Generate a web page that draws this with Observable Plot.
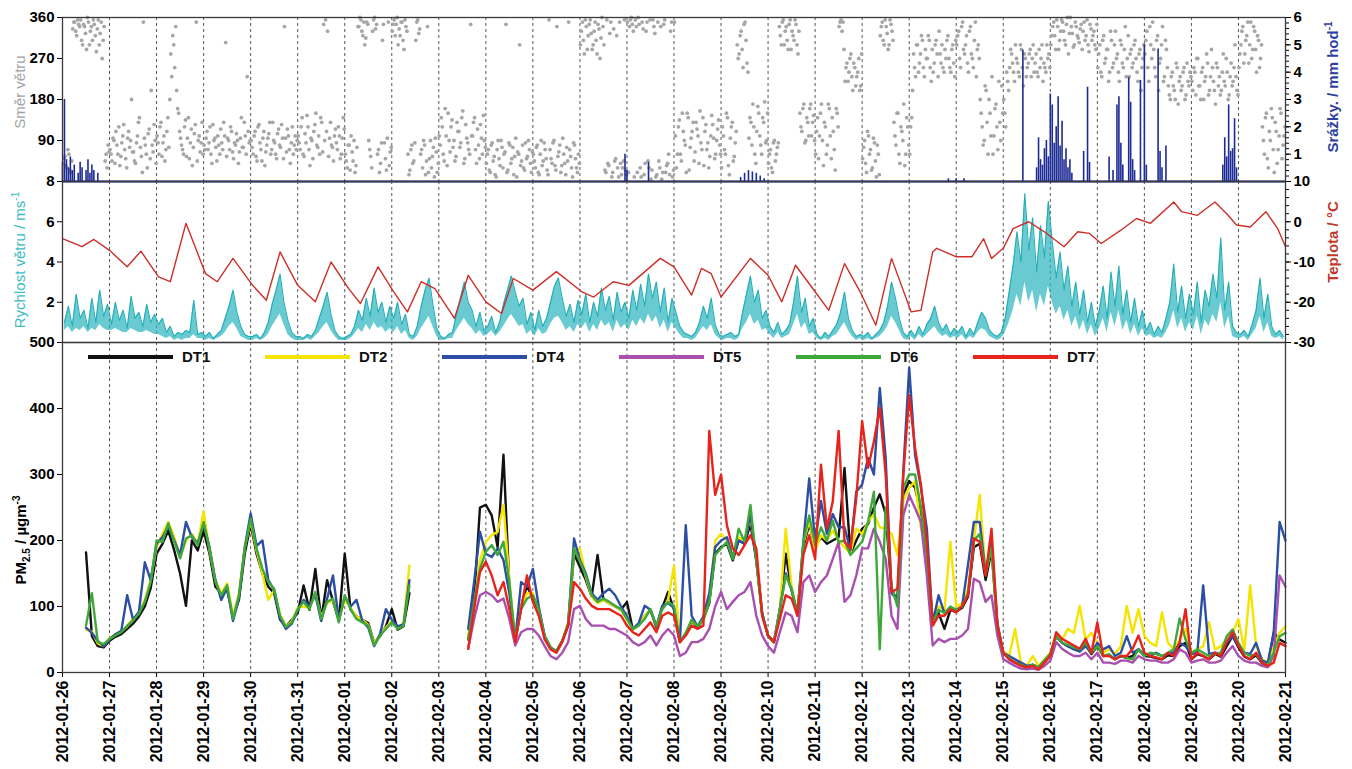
<!DOCTYPE html>
<html><head><meta charset="utf-8">
<script src="https://cdn.jsdelivr.net/npm/d3@7"></script>
<script src="https://cdn.jsdelivr.net/npm/@observablehq/plot@0.6"></script>
<style>
body{margin:0;background:#fff;}
#wrap{position:relative;width:1352px;height:769px;overflow:hidden;background:#fff;}
</style></head><body><div id="wrap"></div>
<script>
// ---------- DATA ----------
// time axis: hours since 2012-01-26 00:00 UTC
const dayLabels = ["2012-01-26","2012-01-27","2012-01-28","2012-01-29","2012-01-30","2012-01-31","2012-02-01","2012-02-02","2012-02-03","2012-02-04","2012-02-05","2012-02-06","2012-02-07","2012-02-08","2012-02-09","2012-02-10","2012-02-11","2012-02-12","2012-02-13","2012-02-14","2012-02-15","2012-02-16","2012-02-17","2012-02-18","2012-02-19","2012-02-20","2012-02-21"];

// wind direction (deg), hourly readings at :15
const windDir = [
40,55,30,60,20,335,350,320,345,355,300,340,290,350,330,310,345,285,355,325,270,340,60,80,
70,45,90,110,60,35,85,125,50,95,75,180,65,40,100,140,55,350,80,30,115,200,65,90,
100,60,130,85,45,110,75,280,320,250,200,150,95,70,120,55,140,85,35,105,350,90,65,130,
80,95,70,120,40,90,75,100,60,85,130,305,95,70,110,50,80,90,65,140,75,100,230,85,
90,60,110,45,125,70,95,35,80,105,60,130,85,50,115,75,95,340,65,100,40,120,80,70,
100,70,140,55,85,120,35,90,110,150,75,60,130,345,355,330,95,80,45,115,70,100,60,140,
60,30,80,100,45,20,75,340,355,320,300,350,90,55,330,360,345,70,40,310,85,25,350,65,
330,355,345,300,320,350,290,340,60,25,80,45,310,355,335,70,90,15,340,50,30,75,95,20,
100,140,60,160,35,90,120,75,45,130,110,85,155,50,95,70,345,100,140,40,80,125,60,90,
40,70,20,85,55,10,90,35,75,60,345,25,80,50,15,95,65,300,45,30,85,55,70,20,
60,30,80,15,90,45,70,25,355,50,85,35,340,65,20,95,40,75,350,55,10,80,30,60,
300,350,280,340,320,355,290,330,310,345,270,360,300,20,40,325,10,335,50,30,350,15,45,25,
350,340,360,330,355,20,345,10,335,40,350,30,5,355,325,15,45,340,20,355,35,60,330,10,
350,30,120,60,150,90,20,140,75,110,45,130,100,155,70,35,125,85,55,145,95,60,115,80,
30,100,60,140,15,120,45,85,300,280,330,250,350,260,95,130,170,60,110,150,80,140,175,90,
40,70,20,90,60,85,320,350,300,340,290,355,330,310,345,280,150,110,170,90,130,160,100,145,
60,140,100,170,35,120,80,160,50,110,25,150,340,355,350,220,260,240,280,200,250,230,270,210,
50,90,20,100,70,30,85,10,60,320,350,300,340,290,355,330,130,80,150,40,110,170,60,120,
60,140,280,230,300,260,320,250,290,270,310,220,240,300,280,330,260,250,290,310,270,240,300,230,
300,330,250,350,280,320,240,340,270,310,230,300,180,120,90,200,60,150,230,100,170,70,130,210,
180,120,220,250,280,240,300,260,230,290,210,270,250,280,230,300,260,240,290,270,220,250,300,280,
300,340,320,355,290,330,350,310,345,280,360,325,300,340,315,335,290,350,320,300,345,310,330,290,
250,300,230,320,270,290,240,310,260,330,280,220,300,250,340,270,230,290,260,310,240,280,200,270,
280,330,220,300,350,250,310,200,270,340,230,290,210,180,240,200,260,170,230,210,250,190,220,240,
220,250,190,270,210,240,180,230,260,200,290,220,170,250,230,200,280,210,240,190,260,220,300,200,
250,300,340,280,320,260,350,290,330,240,310,270,120,60,150,30,90,140,20,110,70,160,50,100];
// wind direction (deg), hourly readings at :45
const windDirB = [
50,35,70,25,45,350,330,355,340,310,345,325,360,300,340,355,320,335,300,350,310,45,30,65,
60,95,40,80,120,55,100,70,30,110,90,65,45,85,130,75,20,95,60,105,50,80,125,40,
85,120,55,100,70,140,180,230,300,340,160,110,80,60,135,95,50,115,75,125,45,100,85,60,
70,110,85,60,125,95,45,80,115,70,100,55,90,120,65,85,105,40,95,75,130,60,110,90,
75,100,55,120,85,45,110,65,95,130,70,90,60,105,80,125,50,95,115,70,85,60,100,90,
85,120,60,105,145,70,95,50,125,80,100,140,65,90,110,55,130,75,100,85,120,50,95,115,
45,80,25,65,90,35,340,360,330,350,315,345,70,30,355,335,60,20,85,345,50,95,35,75,
345,320,360,335,350,310,355,330,15,70,40,85,350,325,60,30,80,45,20,90,55,10,65,40,
80,120,45,100,150,65,135,90,55,110,75,140,40,125,85,60,100,130,70,115,50,95,145,75,
60,25,80,45,15,70,50,90,30,65,20,85,40,75,55,10,60,35,80,25,50,90,40,65,
45,75,20,60,35,85,50,15,70,40,90,25,55,80,35,60,15,45,70,30,85,50,20,40,
330,310,355,290,345,325,300,350,280,335,315,340,25,355,35,350,20,45,320,10,40,30,355,15,
20,355,345,10,340,360,30,350,15,330,45,355,25,340,10,350,30,5,345,20,40,15,350,25,
100,60,135,45,110,80,150,25,95,130,65,115,40,85,140,110,70,30,100,125,50,90,135,60,
120,70,150,35,95,130,55,110,270,320,290,345,310,240,140,80,120,40,165,100,60,130,85,150,
60,30,85,45,75,340,300,355,330,310,345,290,320,355,300,330,120,160,85,140,100,170,130,90,
110,50,150,90,130,60,170,100,140,70,160,120,350,330,290,250,220,270,230,260,210,240,200,280,
75,40,110,60,25,95,45,80,15,340,310,355,325,300,345,310,100,150,60,120,90,35,140,80,
120,200,250,300,240,280,310,230,270,320,250,290,260,310,230,280,300,240,270,320,250,290,260,310,
320,270,340,290,300,260,330,280,250,350,290,270,150,80,210,130,180,100,60,160,120,220,90,150,
150,240,200,290,260,220,270,240,300,250,280,230,260,290,270,240,280,230,250,300,260,240,270,250,
320,350,290,340,310,355,330,300,360,325,340,295,350,320,305,345,330,310,355,285,335,320,300,345,
280,240,310,260,290,220,330,250,300,270,240,310,260,290,230,320,280,250,300,270,220,290,250,300,
310,250,340,270,290,230,320,260,300,220,310,250,190,230,210,180,250,220,200,240,180,260,210,230,
200,240,270,210,180,250,220,280,190,230,250,200,260,210,190,240,220,270,180,230,210,250,230,190,
280,330,260,310,350,300,270,340,290,320,250,300,90,140,50,110,160,70,130,40,100,150,80,120];

// precipitation (mm/h): hour, value
const precipHours = [0,1,2,3,4,5,6,8,9,10,12,13,14,15,16,18,
 287,288,299, 346,348,350,352,354,356,358, 452,456,460,
 490,497,498,499,500,501,502,503,504,505,506,507,508,509,510,511,512,513,514,515,
 521,523,524, 534,536,538,539,540,541, 544,545,546,547, 550,552,553, 559,560,561,563,
 592,593,594,595,596,597,598,599];
const precipValues = [0.6,3.0,0.8,0.5,0.9,0.4,0.6,0.3,0.7,0.5,0.4,0.8,0.3,0.6,0.4,0.3,
 1.0,0.4,0.7, 0.15,0.3,0.4,0.35,0.3,0.2,0.1, 0.1,0.1,0.1,
 4.8,0.5,1.6,0.8,0.6,1.2,1.5,0.9,3.2,2.8,1.4,2.0,3.1,1.3,2.2,0.8,1.2,0.5,0.8,0.3,
 1.1,3.45,0.7, 0.9,0.4,2.8,3.1,1.4,0.6, 3.8,2.9,0.8,0.4, 3.7,5.0,0.6, 4.85,1.1,0.5,1.3,
 0.6,1.6,0.9,2.8,1.1,1.2,2.3,0.5];

// wind speed (m/s), every 2 hours: upper readings and lower envelope
const windSpeed = [
1.0,1.8,0.8,2.4,1.2,1.6,0.7,2.2,1.0,2.6,1.3,1.9,
0.9,2.0,1.1,1.6,0.7,2.3,1.2,1.5,0.8,1.9,1.0,1.4,
0.9,1.2,0.5,0.8,0.3,0.5,0.4,0.6,0.5,2.1,0.4,0.5,
0.3,0.5,0.2,0.4,0.6,1.2,1.8,2.6,1.5,0.8,0.4,0.3,
0.3,0.4,0.2,0.5,1.0,1.9,2.6,3.4,2.0,1.1,0.5,0.3,
0.3,0.2,0.4,0.3,0.6,1.2,1.8,2.5,1.4,0.6,0.3,0.2,
0.3,0.4,0.8,1.6,1.1,2.2,1.3,2.7,1.5,2.0,1.0,1.8,
1.2,2.0,0.9,1.4,0.4,0.3,0.8,1.8,2.6,3.2,1.9,0.7,
0.3,0.2,0.4,0.5,1.4,2.2,3.0,2.0,1.6,0.8,1.5,0.6,
0.8,1.3,0.5,1.0,1.9,2.6,3.3,2.5,1.8,2.2,0.9,1.5,
0.6,1.6,0.8,1.2,2.0,2.8,3.2,2.2,1.3,1.9,1.0,2.1,
1.4,2.4,1.0,2.0,1.3,2.7,1.6,2.3,1.1,2.5,1.5,2.0,
1.2,2.6,1.6,2.9,1.8,3.4,2.2,3.0,1.5,2.7,1.0,2.2,
1.5,0.8,0.5,0.4,0.3,0.5,1.0,1.8,1.2,2.2,0.9,0.4,
0.3,0.4,0.5,0.3,0.4,1.5,2.4,3.3,2.0,2.6,1.2,1.6,
0.8,0.5,1.0,0.4,0.6,0.9,2.0,3.3,1.5,2.2,0.8,1.2,
0.4,0.2,0.5,0.3,0.6,0.9,1.5,2.5,1.2,0.6,0.3,0.4,
0.3,0.5,0.2,0.4,0.6,1.0,1.8,3.0,2.2,1.2,0.5,0.3,
0.6,0.3,0.8,0.4,0.9,1.2,1.8,1.0,0.6,0.9,0.4,0.7,
0.5,0.8,0.3,0.7,0.4,1.0,1.5,1.2,0.6,0.4,0.3,0.5,
1.2,2.5,3.8,5.5,4.0,7.4,4.6,6.2,3.5,5.8,4.2,7.0,
5.0,3.2,4.5,2.6,3.8,1.8,3.0,1.4,2.6,1.0,2.0,0.8,
1.6,2.8,1.2,3.5,1.8,3.8,1.4,2.6,1.0,2.2,0.8,1.6,
0.6,1.0,0.4,0.8,0.5,1.2,2.0,3.9,1.5,2.8,1.2,2.4,
1.4,3.0,1.0,2.6,1.8,3.4,2.2,5.2,1.6,3.0,0.8,0.5,
0.4,0.6,0.3,0.9,1.6,3.2,1.2,2.4,0.8,0.4,0.6,0.3];
const windLow = [
0.6,0.8,0.5,0.7,0.6,0.8,0.5,0.7,0.6,0.9,0.7,0.6,
0.6,0.7,0.6,0.5,0.5,0.7,0.6,0.5,0.5,0.6,0.5,0.4,
0.4,0.3,0.2,0.3,0.1,0.2,0.1,0.2,0.2,0.4,0.2,0.2,
0.1,0.2,0.1,0.2,0.3,0.5,0.8,1.0,0.7,0.3,0.2,0.1,
0.1,0.2,0.1,0.2,0.4,0.8,1.1,1.4,0.9,0.4,0.2,0.1,
0.1,0.1,0.2,0.1,0.3,0.5,0.8,1.0,0.6,0.3,0.1,0.1,
0.1,0.2,0.4,0.7,0.5,0.9,0.6,1.0,0.7,0.8,0.5,0.7,
0.5,0.8,0.4,0.6,0.2,0.1,0.3,0.7,1.0,1.3,0.8,0.3,
0.1,0.1,0.2,0.2,0.6,0.9,1.2,0.9,0.7,0.4,0.6,0.3,
0.4,0.6,0.3,0.5,0.8,1.1,1.4,1.1,0.8,0.9,0.4,0.6,
0.3,0.7,0.4,0.5,0.9,1.2,1.3,1.0,0.6,0.8,0.5,0.9,
0.7,1.0,0.5,0.9,0.6,1.1,0.8,1.0,0.5,1.1,0.7,0.9,
0.6,1.1,0.8,1.2,0.9,1.4,1.0,1.3,0.7,1.1,0.5,1.0,
0.7,0.4,0.2,0.2,0.1,0.2,0.5,0.8,0.6,0.9,0.4,0.2,
0.1,0.2,0.2,0.1,0.2,0.7,1.0,1.4,0.9,1.1,0.6,0.7,
0.4,0.2,0.5,0.2,0.3,0.4,0.9,1.4,0.7,1.0,0.4,0.5,
0.2,0.1,0.2,0.1,0.3,0.4,0.7,1.0,0.6,0.3,0.1,0.2,
0.1,0.2,0.1,0.2,0.3,0.5,0.8,1.3,1.0,0.6,0.2,0.1,
0.3,0.1,0.4,0.2,0.4,0.6,0.8,0.5,0.3,0.4,0.2,0.3,
0.2,0.4,0.1,0.3,0.2,0.5,0.7,0.6,0.3,0.2,0.1,0.2,
0.5,1.0,1.6,2.4,1.8,3.0,2.0,2.6,1.5,2.4,1.8,2.8,
2.0,1.4,1.8,1.1,1.6,0.8,1.3,0.6,1.1,0.4,0.9,0.3,
0.7,1.2,0.5,1.5,0.8,1.6,0.6,1.1,0.4,0.9,0.3,0.7,
0.3,0.4,0.2,0.3,0.2,0.5,0.9,1.6,0.7,1.2,0.5,1.0,
0.6,1.3,0.4,1.1,0.8,1.4,1.0,2.0,0.7,1.3,0.3,0.2,
0.2,0.3,0.1,0.4,0.7,1.3,0.5,1.0,0.3,0.2,0.3,0.1];

// temperature (°C): hour, value
const tempHours = [0,10,16,24,33,40,49,55,63,73,79,87,97,104,111,120,129,137,146,152,161,169,176,183,190,200,207,216,224,230,240,252,265,271,281,289,305,312,321,326,331,336,351,360,367,374,384,391,399,407,415,423,433,438,444,446,456,464,470,474,480,485,493,501,511,518,524,530,540,548,555,567,571,579,588,594,599,606,614,620,624];
const tempValues = [-4.2,-6.2,-4.4,-7.1,-11.2,-7.3,-13.7,-14.9,-0.4,-12.9,-14.9,-9.1,-15.8,-19.5,-7.5,-15.8,-19.9,-10.0,-16.6,-20.3,-11.2,-17.4,-22.4,-14.9,-16.6,-24.0,-13.3,-19.9,-22.8,-14.1,-17.0,-12.4,-17.4,-18.7,-14.9,-15.8,-9.1,-11.2,-18.2,-11.6,-12.9,-18.7,-9.1,-13.3,-19.9,-10.8,-17.4,-22.0,-10.4,-17.4,-25.7,-9.1,-22.4,-22.0,-7.5,-6.6,-8.7,-8.7,-4.2,-9.1,-6.6,-1.7,0.0,-2.5,-6.2,-2.5,-2.9,-5.4,-2.1,0.8,-0.4,4.9,2.5,1.6,4.9,2.0,-0.8,-1.3,2.5,-1.7,-6.2];

// PM2.5 (µg/m3), every 3 hours. Segment A: hours 12..177, segment B: hours 207..624
const segAStart = 12, segBStart = 207, stepH = 3;
const DT1_a = [182,55,40,38,48,54,58,66,74,85,100,128,180,195,215,185,150,101,200,185,215,180,130,120,125,85,110,180,225,180,150,130,120,80,70,80,90,132,95,157,80,140,108,78,180,95,85,80,75,45,55,70,96,65,70,120];
const DT2_a = [65,62,44,40,52,58,62,70,82,90,110,140,190,210,228,205,175,200,210,195,244,185,140,120,135,85,120,190,230,185,150,110,125,88,70,78,98,100,98,118,85,105,110,80,110,98,85,80,72,44,58,68,78,68,75,162];
const DT4_a = [68,60,48,40,50,58,63,117,80,92,167,140,195,205,222,200,178,228,205,196,225,190,140,110,128,78,112,190,241,192,200,140,125,82,66,74,94,110,100,118,78,112,147,80,115,100,110,78,68,40,58,96,80,70,73,140];
const DT6_a = [71,120,46,43,51,56,61,71,79,89,107,137,200,198,226,198,173,203,208,193,228,188,137,117,132,81,117,188,233,188,157,137,127,86,69,76,96,107,96,122,81,107,112,76,117,96,81,76,71,41,56,66,76,66,71,132];

const DT1_b = [50,110,250,254,238,190,330,130,48,100,132,110,95,55,38,32,48,72,180,160,140,115,178,110,105,100,95,107,65,72,85,95,68,98,122,95,46,58,78,68,80,105,180,190,195,170,200,195,225,170,88,55,46,95,180,125,88,190,225,190,205,195,200,205,310,180,200,218,225,250,270,240,125,110,270,290,280,240,180,72,90,66,95,92,98,115,190,195,140,185,70,30,20,15,12,8,10,6,16,26,55,45,40,36,32,42,28,40,25,26,20,25,22,25,35,25,24,22,20,26,25,40,45,20,28,25,20,28,24,40,55,38,24,20,26,14,10,61,50,45];
const DT2_b = [55,100,170,198,208,213,254,140,50,100,120,120,95,55,38,32,48,75,185,188,145,115,105,110,105,100,95,80,65,72,85,95,70,95,110,162,46,60,78,70,80,110,200,210,200,175,205,200,235,175,88,56,46,95,218,130,90,195,230,185,208,200,215,200,190,180,218,210,228,240,220,218,210,178,260,280,290,218,190,75,100,95,198,100,105,125,200,269,150,190,72,32,25,66,15,10,25,10,20,30,56,50,66,60,101,50,60,45,30,35,28,40,101,60,96,56,45,40,91,45,35,50,66,30,35,40,76,35,40,50,60,81,35,132,40,20,15,40,60,70];
const DT4_b = [66,137,213,180,175,188,170,120,50,137,130,157,100,55,38,32,48,71,203,170,150,120,110,120,127,117,100,85,66,75,101,95,70,101,105,98,46,223,86,70,85,120,190,200,205,175,200,195,240,170,90,56,46,95,150,125,90,198,294,200,260,210,240,220,220,185,274,285,325,300,431,325,120,110,305,462,330,280,218,75,117,90,95,95,100,163,228,228,150,200,75,30,25,20,15,10,12,8,18,28,55,45,40,35,32,40,30,45,35,40,25,30,55,30,35,28,25,30,25,28,30,45,40,28,30,132,28,30,28,45,55,40,30,28,45,18,15,60,228,200];
const DT5_b = [36,81,117,122,117,107,112,81,41,61,66,66,56,40,25,20,30,46,96,101,81,71,71,71,66,66,61,56,46,41,46,56,41,56,66,56,25,30,46,46,51,66,100,122,96,107,117,122,137,86,56,40,30,61,91,86,61,137,147,122,137,147,172,198,107,117,147,188,188,218,198,172,86,66,238,269,249,228,147,41,51,46,51,51,56,66,142,137,107,117,56,20,15,10,6,5,6,4,10,18,46,36,30,25,25,30,20,30,15,15,13,18,18,15,25,20,18,18,15,15,20,35,30,15,18,20,15,15,18,30,40,25,18,15,15,10,8,25,147,130];
const DT6_b = [50,107,157,183,193,178,198,137,48,96,112,117,96,55,38,32,48,75,188,168,147,117,107,112,107,101,96,81,66,71,81,96,71,96,107,101,46,60,80,70,81,107,178,188,198,172,218,198,254,168,86,56,46,96,147,127,86,198,238,193,220,200,230,198,200,178,188,198,228,274,35,250,130,100,280,300,300,250,180,75,95,90,100,95,100,120,200,210,150,190,70,30,22,15,12,8,12,8,18,28,55,45,42,38,35,45,30,40,25,28,20,25,22,20,35,25,30,28,25,30,35,82,50,30,35,30,25,28,30,55,65,45,30,25,28,15,12,30,55,60];
const DT7_b = [36,96,152,168,147,117,137,96,46,96,147,107,86,50,35,30,46,71,137,127,112,101,96,96,96,91,86,71,61,56,66,76,61,86,91,86,46,56,71,66,71,366,269,300,223,188,178,193,208,188,86,56,46,81,117,112,86,178,208,172,315,218,259,366,198,188,264,381,310,350,401,300,122,127,300,420,340,284,198,71,86,86,96,91,101,117,203,198,147,218,71,30,20,15,10,8,10,5,15,25,61,51,46,41,36,51,30,76,25,25,20,25,25,36,56,30,25,23,20,30,25,46,96,20,30,25,20,30,25,46,61,41,25,20,30,15,10,15,45,40];

const seriesNames = ["DT1","DT2","DT4","DT5","DT6","DT7"];
const seriesColors = ["#111111","#f4e400","#2c4ea3","#a84fb0","#3ea83a","#e8231c"];

// ---------- BUILD ----------
const START = Date.UTC(2012,0,26);
const HOUR = 3600e3;
const T = h => new Date(START + h*HOUR);
const parseDay = d3.utcParse("%Y-%m-%d");
const days = dayLabels.map(parseDay);
const innerDays = days.slice(1, -1);
const xDomain = [days[0], days[days.length-1]];
const FONT = '"Liberation Sans", Arial, Helvetica, sans-serif';
const wrap = document.getElementById("wrap");

function styleAt(top) {
  return {position:"absolute", left:"0px", top: top + "px", background:"transparent",
    overflow:"visible", fontFamily: FONT, fontSize:"15px", fontWeight:"bold", color:"#000", maxWidth:"none"};
}
const common = {width:1352, marginLeft:62, marginRight:67};
const grid = () => Plot.ruleX(innerDays, {stroke:"#3a3a3a", strokeDasharray:"3,3", strokeWidth:1, strokeOpacity:0.85});
const frame = () => Plot.frame({stroke:"#3a3a3a", strokeWidth:1.3});

// --- top panel: wind direction + precipitation ---
const dirRows = [
  ...windDir.map((v,i) => ({t: T(i + 0.25), v})),
  ...windDirB.map((v,i) => ({t: T(i + 0.75), v}))
];
const PR = 60; // 0..6 mm/h shown on the 0..360 scale
const prRows = precipHours.map((h,i) => ({t: T(h), v: precipValues[i] * PR}));
const topPlot = Plot.plot({
  ...common, height:181, marginTop:17, marginBottom:0,
  style: styleAt(0),
  x: {type:"utc", domain:xDomain, axis:null},
  y: {domain:[0,360]},
  marks: [
    grid(),
    Plot.dot(dirRows, {x:"t", y:"v", r:1.9, fill:"#a6a6a6", stroke:"none"}),
    Plot.ruleX(prRows, {x:"t", y1:0, y2:"v", stroke:"#1d2b94", strokeWidth:1.6}),
    Plot.ruleY([0], {stroke:"#1d2b94", strokeWidth:2}),
    Plot.axisY({anchor:"left", ticks:[90,180,270,360], tickSize:5, tickPadding:3, label:null, fontSize:15}),
    Plot.axisY({anchor:"right", ticks:d3.range(12, 360, 12), tickSize:3, tickFormat:() => "", label:null}),
    Plot.axisY({anchor:"right", ticks:[60,120,180,240,300,360], tickSize:5, tickPadding:3, tickFormat:d => d/PR, label:null, fontSize:15}),
    frame()
  ]
});
wrap.appendChild(topPlot);

// --- middle panel: wind speed + temperature ---
const wsRows = windSpeed.map((v,i) => ({t: T(i*2 + 1), v, lo: windLow[i]}));
const tMap = c => (c + 30) / 5;  // -30..10 °C onto 0..8
const tempRows = tempHours.map((h,i) => ({t: T(h), v: tMap(tempValues[i])}));
const midPlot = Plot.plot({
  ...common, height:161, marginTop:0, marginBottom:0,
  style: styleAt(181),
  x: {type:"utc", domain:xDomain, axis:null},
  y: {domain:[0,8]},
  marks: [
    grid(),
    Plot.areaY(wsRows, {x:"t", y1:"lo", y2:"v", fill:"#2ab5bd", fillOpacity:0.7}),
    Plot.line(wsRows, {x:"t", y:"v", stroke:"#23aeb7", strokeWidth:1.1}),
    Plot.line(tempRows, {x:"t", y:"v", stroke:"#cc2f2a", strokeWidth:1.4}),
    Plot.axisY({anchor:"left", ticks:[2,4,6,8], tickSize:5, tickPadding:3, label:null, fontSize:15}),
    Plot.axisY({anchor:"right", ticks:d3.range(0.4, 8, 0.4), tickSize:3, tickFormat:() => "", label:null}),
    Plot.axisY({anchor:"right", ticks:[0,2,4,6,8], tickSize:5, tickPadding:3, tickFormat:d => Math.round(d*5 - 30), label:null, fontSize:15}),
    frame()
  ]
});
wrap.appendChild(midPlot);

// --- bottom panel: PM2.5 ---
function pmRows(a, b) {
  const r = [];
  a.forEach((v,i) => r.push({t: T(segAStart + stepH*i), v}));
  r.push({t: T(195), v: NaN});
  b.forEach((v,i) => r.push({t: T(segBStart + stepH*i), v}));
  return r;
}
const pmData = [
  pmRows(DT1_a, DT1_b), pmRows(DT2_a, DT2_b), pmRows(DT4_a, DT4_b),
  pmRows([], DT5_b), pmRows(DT6_a, DT6_b), pmRows([], DT7_b)
];
const fmt = d3.utcFormat("%Y-%m-%d");
const botPlot = Plot.plot({
  ...common, height:427, marginTop:0, marginBottom:97,
  style: styleAt(342),
  x: {type:"utc", domain:xDomain},
  y: {domain:[0,500]},
  marks: [
    grid(),
    ...pmData.map((rows,i) => Plot.line(rows, {x:"t", y:"v", stroke:seriesColors[i], strokeWidth:2.4})),
    Plot.axisY({anchor:"left", ticks:[0,100,200,300,400,500], tickSize:5, tickPadding:3, label:null, fontSize:15}),
    Plot.axisX({ticks:days, tickFormat:fmt, tickRotate:-90, tickSize:5, tickPadding:3, label:null, fontSize:16}),
    frame()
  ]
});
wrap.appendChild(botPlot);

// --- overlay: axis titles and legend ---
const ov = d3.create("svg").attr("width",1352).attr("height",769)
  .style("position","absolute").style("left","0px").style("top","0px")
  .style("pointer-events","none").style("font-family", FONT);

function vtitle(cx, cy, color, weight, parts) {
  const t = ov.append("text").attr("transform", `translate(${cx},${cy}) rotate(-90)`)
    .attr("text-anchor","middle").attr("fill",color).attr("font-size",15).attr("font-weight",weight);
  parts.forEach(p => {
    const s = t.append("tspan").text(p.text);
    if (p.dy) s.attr("dy", p.dy);
    if (p.size) s.attr("font-size", p.size);
  });
}
vtitle(25, 92, "#a3a3a3", "normal", [{text:"Směr větru"}]);
vtitle(25, 260, "#3bbcc4", "normal", [{text:"Rychlost větru / ms"}, {text:"-1", dy:-6, size:10}]);
vtitle(26, 540, "#000", "bold", [{text:"PM"}, {text:"2.5", dy:4, size:10}, {text:" / µgm", dy:-4}, {text:"-3", dy:-6, size:10}]);
vtitle(1338, 87, "#2f3fa0", "bold", [{text:"Srážky. / mm hod"}, {text:"-1", dy:-6, size:10}]);
vtitle(1338, 242, "#c0392b", "bold", [{text:"Teplota / °C"}]);

seriesNames.forEach((name, i) => {
  const x0 = 88 + i*177;
  ov.append("line").attr("x1", x0).attr("x2", x0 + 85).attr("y1", 357).attr("y2", 357)
    .attr("stroke", seriesColors[i]).attr("stroke-width", 4);
  ov.append("text").attr("x", x0 + 94).attr("y", 362).attr("font-size", 15)
    .attr("font-weight","bold").attr("fill","#111").text(name);
});
wrap.appendChild(ov.node());
</script></body></html>
